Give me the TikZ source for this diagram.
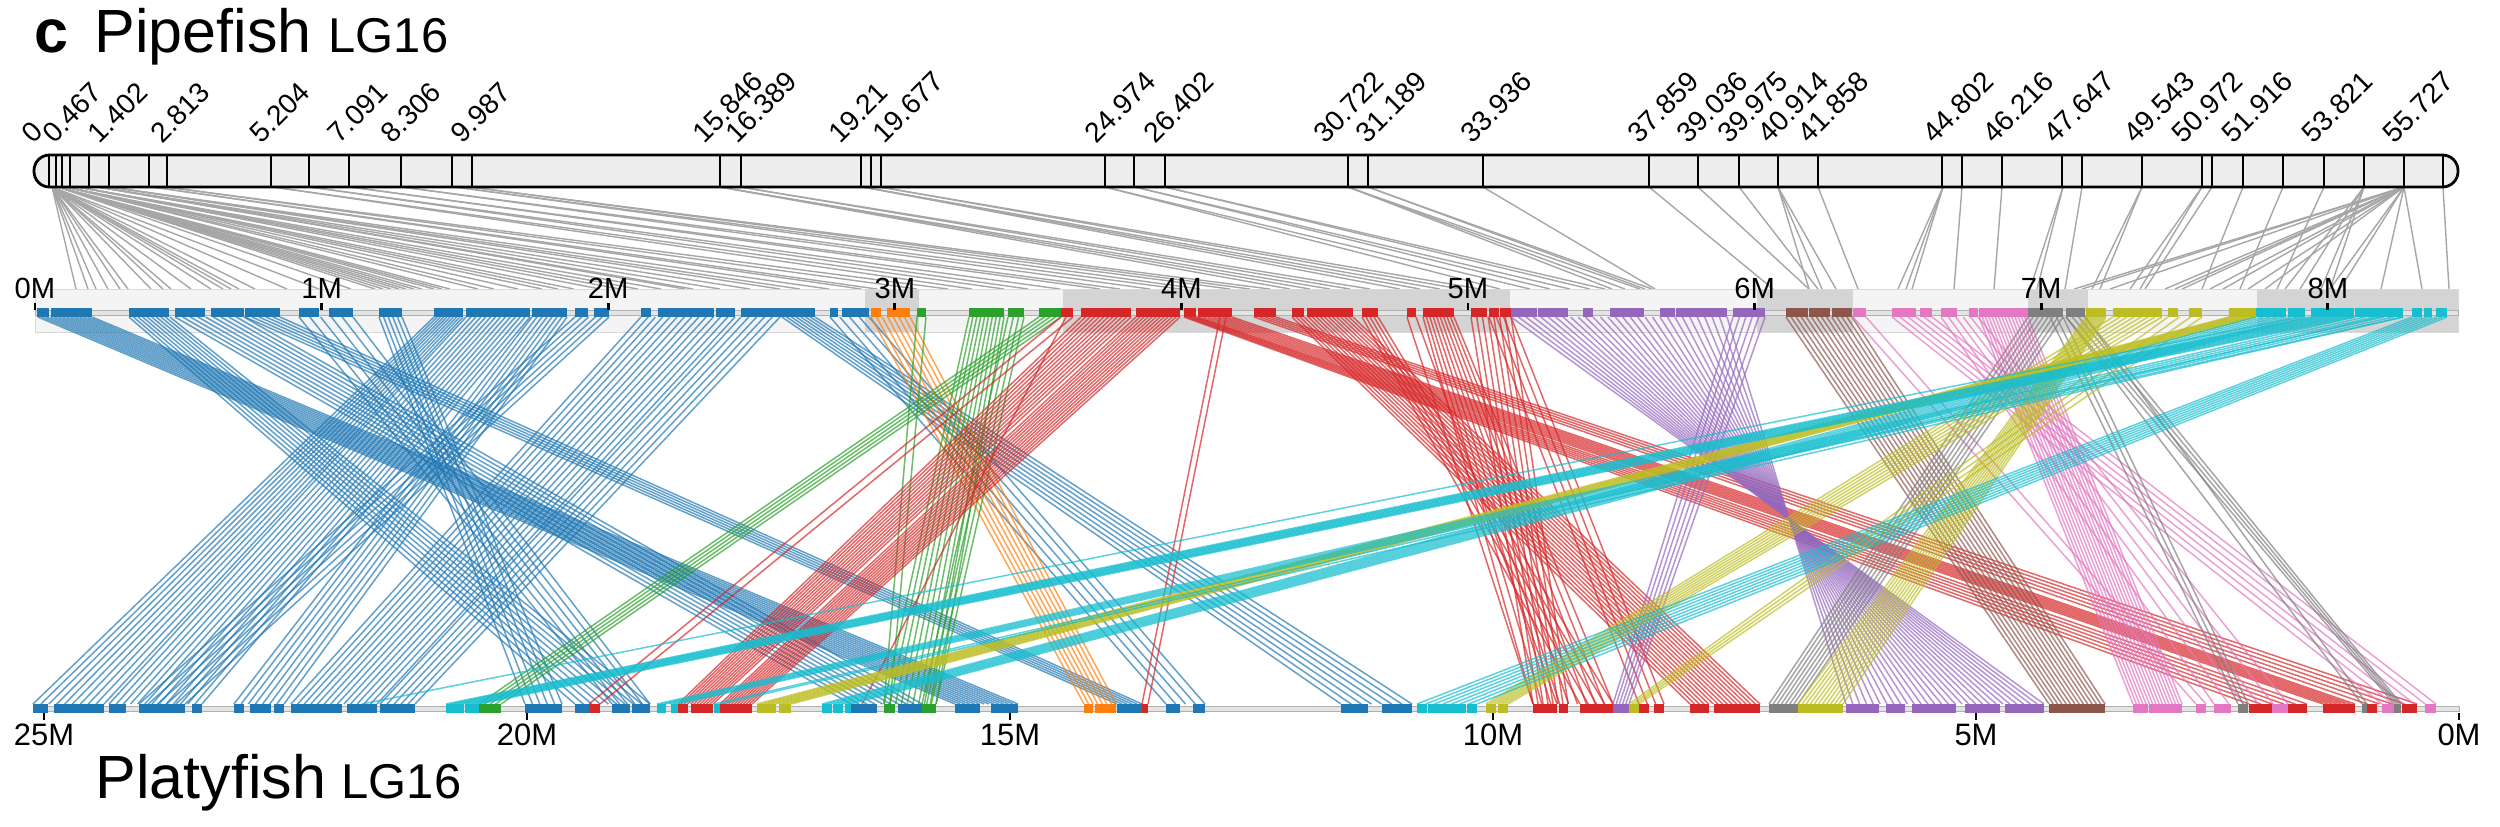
\documentclass[tikz,border=0pt]{standalone}
\usepackage{fontspec}
\setmainfont{Liberation Sans}
\definecolor{cBlue}{HTML}{1F77B4}
\definecolor{cOrange}{HTML}{FF7F0E}
\definecolor{cGreen}{HTML}{2CA02C}
\definecolor{cRed}{HTML}{D62728}
\definecolor{cPurple}{HTML}{9467BD}
\definecolor{cBrown}{HTML}{8C564B}
\definecolor{cPink}{HTML}{E377C2}
\definecolor{cGray}{HTML}{7F7F7F}
\definecolor{cOlive}{HTML}{BCBD22}
\definecolor{cCyan}{HTML}{17BECF}
\definecolor{gLine}{HTML}{A6A6A6}
\definecolor{barFill}{HTML}{EDEDED}
\definecolor{bandLight}{HTML}{F4F4F4}
\definecolor{bandDark}{HTML}{D4D4D4}
\definecolor{trkFill}{HTML}{E4E4E4}
\definecolor{trkLine}{HTML}{B0B0B0}
\newcommand{\synbundle}[6]{%
  \foreach \k in {1,...,#6}{%
    \pgfmathsetmacro{\sbf}{(\k-1)/max(#6-1,1)}%
    \pgfmathsetmacro{\sba}{#2+(#3-#2)*\sbf}%
    \pgfmathsetmacro{\sbb}{#4+(#5-#4)*\sbf}%
    \draw[cl,draw=#1] (\sba,317) -- (\sbb,704);%
  }}
\newcommand{\topblk}[2]{\foreach \a/\b in {#2}{\fill[#1] (\a,308) rectangle (\b,317);}}
\newcommand{\botblk}[2]{\foreach \a/\b in {#2}{\fill[#1] (\a,704) rectangle (\b,713);}}
\begin{document}
\begin{tikzpicture}[x=0.01cm,y=-0.01cm,
  gl/.style={draw=gLine,line width=0.014cm},
  cl/.style={line width=0.015cm,draw opacity=0.7},
  tck/.style={line width=0.028cm,draw=black},
  mk/.style={rotate=45,anchor=base west,inner sep=0pt,font=\fontsize{8pt}{9pt}\selectfont},
  axt/.style={anchor=base,inner sep=0pt,font=\fontsize{8.3pt}{9pt}\selectfont},
  axb/.style={anchor=base,inner sep=0pt,font=\fontsize{8.8pt}{10pt}\selectfont},
  ttl/.style={anchor=base west,inner sep=0pt,font=\fontsize{17.35pt}{20pt}\selectfont},
  ttls/.style={anchor=base west,inner sep=0pt,font=\fontsize{13.9pt}{16pt}\selectfont}]
\useasboundingbox (0,0) rectangle (2500,826);

% titles
\node[ttl,font=\fontsize{17.35pt}{20pt}\selectfont\bfseries] (panel) at (34,52) {c};
\node[ttl] (pipe) at (94,52) {Pipefish};
\node[ttls] (pipelg) at (328,52) {LG16};
\node[ttl] (platy) at (95,798) {Platyfish};
\node[ttls] (platylg) at (341,798) {LG16};

% gray map-to-physical lines
\foreach \a/\b in {52/76,52/88,52/96,52/108,52/120,52/128,52/151,52/163,52/171,52/191,52/211,52/223,52/231,52/239,52/255,52/287,52/319,
58/351,58/375,58/383,58/391,58/399,58/406,58/414,58/422,58/434,58/442,58/450,
66/478,66/494,66/518,66/542,66/558,66/574,
78/600,78/620,78/638,78/661,
98/685,98/693,98/720,98/750,
110/780,110/800,110/829,
152/861,152/877,166/917,166/948,
273/972,273/1004,310/1028,310/1060,350/1100,350/1120,402/1150,402/1180,455/1200,455/1230,470/1250,470/1270,
720/1290,720/1310,720/1330,740/1350,740/1370,
863/1400,863/1420,863/1440,880/1460,880/1480,
1105/1500,1105/1530,1135/1550,1135/1570,1165/1590,1165/1605,
1348/1612,1348/1625,1348/1640,1368/1645,1368/1652,1483/1655,
1649/1773,1698/1809,1739/1818,1778/1809,1778/1822,1778/1836,1818/1858,
1943/1898,1943/1906,1943/1912,1962/1954,2002/1994,2063/2030,2063/2037,2082/2065,
2142/2092,2142/2100,2202/2130,2202/2140,2212/2145,2243/2202,2283/2240,2324/2277,
2364/2285,2364/2300,2364/2321,2364/2330,
2404/2074,2404/2082,2404/2110,2404/2165,2404/2175,2404/2182,2404/2210,2404/2223,2404/2248,2404/2265,2404/2330,2404/2340,2404/2381,2404/2422,
2443/2449}
  \draw[gl] (\a,187) -- (\b,289);

% chromosome bar
\draw[line width=0.028cm,fill=barFill,rounded corners=0.155cm] (34,155) rectangle (2458,187);
\foreach \d in {49,56,62,70,89,109,149,167,271,309,349,401,452,472,720,741,861,871,881,1105,1134,1165,1348,1368,1483,1649,1698,1739,1778,1818,1942,1962,2002,2062,2082,2142,2202,2212,2243,2283,2324,2364,2404,2443}
  \draw[line width=0.026cm] (\d,155) -- (\d,187);

% marker labels
\foreach \x/\t [count=\i] in {33.5/0,53.6/0.467,99/1.402,161.6/2.813,261/5.204,339/7.091,392/8.306,462/9.987,703.6/15.846,737/16.389,839.7/19.21,884/19.677,1096/24.974,1154.5/26.402,1324.5/30.722,1367/31.189,1472/33.936,1639/37.859,1688/39.036,1728.6/39.975,1768.75/40.914,1809/41.858,1934/44.802,1994/46.216,2055/47.647,2135/49.543,2183/50.972,2233/51.916,2313/53.821,2394/55.727}
  \node[mk] (mk\i) at (\x,145) {\t};

% top band
\fill[bandLight] (35,289) rectangle (2458,332);
\foreach \a/\b in {865/919,1063/1510,1757/1853,2028/2088,2257/2458}
  \fill[bandDark] (\a,289) rectangle (\b,332);
\draw[gray!30,line width=0.006cm] (35,289) rectangle (2458,332);

% synteny lines
\synbundle{cBlue}{38}{92}{955}{1018}{14}
\synbundle{cBlue}{129}{170}{575}{650}{10}
\synbundle{cBlue}{175}{244}{851}{922}{10}
\synbundle{cBlue}{245}{280}{1117}{1142}{6}
\synbundle{cBlue}{299}{353}{612}{650}{6}
\synbundle{cBlue}{379}{402}{525}{562}{6}
\synbundle{cBlue}{434}{463}{33}{104}{10}
\synbundle{cBlue}{466}{530}{109}{202}{14}
\synbundle{cBlue}{532}{567}{234}{284}{8}
\synbundle{cBlue}{575}{609}{139}{185}{6}
\synbundle{cBlue}{641}{735}{291}{377}{14}
\synbundle{cBlue}{741}{780}{380}{415}{6}
\synbundle{cBlue}{782}{815}{1341}{1412}{8}
\synbundle{cBlue}{830}{869}{1166}{1205}{5}
\synbundle{cOrange}{871}{910}{1084}{1116}{8}
\synbundle{cGreen}{917}{926}{884}{890}{2}
\synbundle{cGreen}{969}{1004}{884}{936}{10}
\synbundle{cGreen}{1008}{1024}{922}{936}{4}
\synbundle{cGreen}{1039}{1061}{479}{501}{5}
\synbundle{cRed}{1061}{1073}{589}{600}{2}
\synbundle{cRed}{1066}{1066}{862}{862}{1}
\synbundle{cRed}{1081}{1131}{678}{713}{12}
\synbundle{cRed}{1136}{1180}{720}{752}{12}
\synbundle{cRed}{1184}{1196}{2249}{2307}{6}
\synbundle{cRed}{1198}{1232}{2323}{2355}{8}
\synbundle{cRed}{1254}{1276}{2367}{2417}{5}
\synbundle{cRed}{1220}{1226}{1142}{1148}{2}
\synbundle{cRed}{1292}{1353}{1690}{1760}{16}
\synbundle{cRed}{1362}{1378}{1580}{1613}{5}
\synbundle{cRed}{1407}{1416}{1533}{1557}{2}
\synbundle{cRed}{1423}{1454}{1533}{1613}{10}
\synbundle{cRed}{1471}{1511}{1533}{1568}{8}
\synbundle{cRed}{1489}{1511}{1639}{1664}{4}
\synbundle{cPurple}{1511}{1727}{2044}{1846}{30}
\synbundle{cPurple}{1733}{1765}{1613}{1629}{6}
\synbundle{cBrown}{1786}{1852}{2049}{2105}{14}
\synbundle{cPink}{1853}{1866}{2196}{2206}{2}
\synbundle{cPink}{1892}{1932}{2382}{2436}{6}
\synbundle{cPink}{1941}{1978}{2214}{2288}{6}
\synbundle{cPink}{1979}{2028}{2133}{2182}{16}
\synbundle{cGray}{2028}{2063}{1769}{1798}{8}
\synbundle{cGray}{2050}{2063}{2238}{2248}{3}
\synbundle{cGray}{2066}{2085}{2362}{2367}{2}
\synbundle{cGray}{2066}{2085}{2394}{2401}{4}
\synbundle{cOlive}{2086}{2106}{1798}{1843}{12}
\synbundle{cOlive}{2113}{2162}{1486}{1508}{8}
\synbundle{cOlive}{2168}{2202}{1629}{1639}{4}
\synbundle{cOlive}{2229}{2256}{757}{791}{10}
\synbundle{cCyan}{2412}{2447}{1417}{1477}{8}
\synbundle{cCyan}{2256}{2305}{822}{851}{8}
\synbundle{cCyan}{2311}{2354}{446}{479}{10}
\synbundle{cCyan}{2355}{2403}{657}{678}{6}
\synbundle{cCyan}{2380}{2403}{714}{720}{2}
\synbundle{cCyan}{2300}{2300}{362}{362}{1}

% tracks
\filldraw[fill=trkFill,draw=trkLine,line width=0.008cm] (35,310) rectangle (2458,315);
\filldraw[fill=trkFill,draw=trkLine,line width=0.008cm] (33,706.5) rectangle (2459,711.5);

% top blocks
\topblk{cBlue}{37/49,51/92,129/169,175/205,211/244,245/280,299/319,329/353,379/402,434/463,466/530,532/567,575/588,594/609,641/651,658/714,716/735,741/815,830/838,842/869}
\topblk{cOrange}{871/881,887/910}
\topblk{cGreen}{917/926,969/1004,1008/1024,1039/1061}
\topblk{cRed}{1061/1073,1081/1131,1136/1180,1184/1196,1198/1232,1254/1276,1292/1304,1307/1353,1362/1378,1407/1416,1423/1454,1471/1487,1489/1499,1500/1511}
\topblk{cPurple}{1511/1537,1538/1568,1583/1593,1610/1644,1660/1675,1676/1727,1733/1765}
\topblk{cBrown}{1786/1808,1809/1830,1832/1852}
\topblk{cPink}{1853/1866,1892/1916,1920/1932,1941/1957,1969/1978,1979/2028}
\topblk{cGray}{2028/2063,2066/2085}
\topblk{cOlive}{2086/2106,2113/2162,2168/2178,2189/2202,2229/2256}
\topblk{cCyan}{2256/2286,2288/2305,2311/2354,2355/2403,2412/2422,2424/2432,2436/2447}

% bottom blocks
\botblk{cBlue}{33/48,54/104,109/126,139/185,192/202,234/244,250/271,274/284,291/342,347/377,380/415,525/562,575/589,612/630,632/650,851/877,898/922,955/980,991/1018,1117/1142,1166/1180,1193/1205,1341/1357,1357/1368,1382/1412}
\botblk{cCyan}{446/464,465/479,657/666,671/678,714/720,822/832,833/843,845/851,1417/1427,1428/1466,1467/1477}
\botblk{cGreen}{479/501,884/895,922/936}
\botblk{cRed}{589/600,678/688,691/713,720/752,1142/1148,1533/1557,1559/1568,1580/1613,1639/1649,1654/1664,1690/1709,1714/1760,2249/2272,2288/2307,2323/2355,2367/2377,2402/2417}
\botblk{cOlive}{757/776,779/791,1486/1496,1498/1508,1629/1639,1798/1843}
\botblk{cOrange}{1084/1093,1095/1116}
\botblk{cPurple}{1613/1629,1846/1879,1886/1905,1912/1956,1965/2000,2005/2044}
\botblk{cGray}{1769/1798,2238/2248,2362/2367,2394/2401}
\botblk{cBrown}{2049/2105}
\botblk{cPink}{2133/2148,2149/2182,2196/2206,2214/2231,2272/2288,2382/2394,2425/2436}

% top axis
\foreach \k in {0,...,8}{%
  \pgfmathsetmacro{\tx}{35+286.6*\k}
  \draw[tck] (\tx,303) -- (\tx,310);
  \node[axt] (ta\k) at (\tx,298) {\k M};
}
% bottom axis
\foreach \k in {0,5,...,25}{%
  \pgfmathsetmacro{\bx}{2459-96.6*\k}
  \draw[tck] (\bx,713) -- (\bx,720);
  \node[axb] (ba\k) at (\bx,745) {\k M};
}
\end{tikzpicture}
\end{document}
